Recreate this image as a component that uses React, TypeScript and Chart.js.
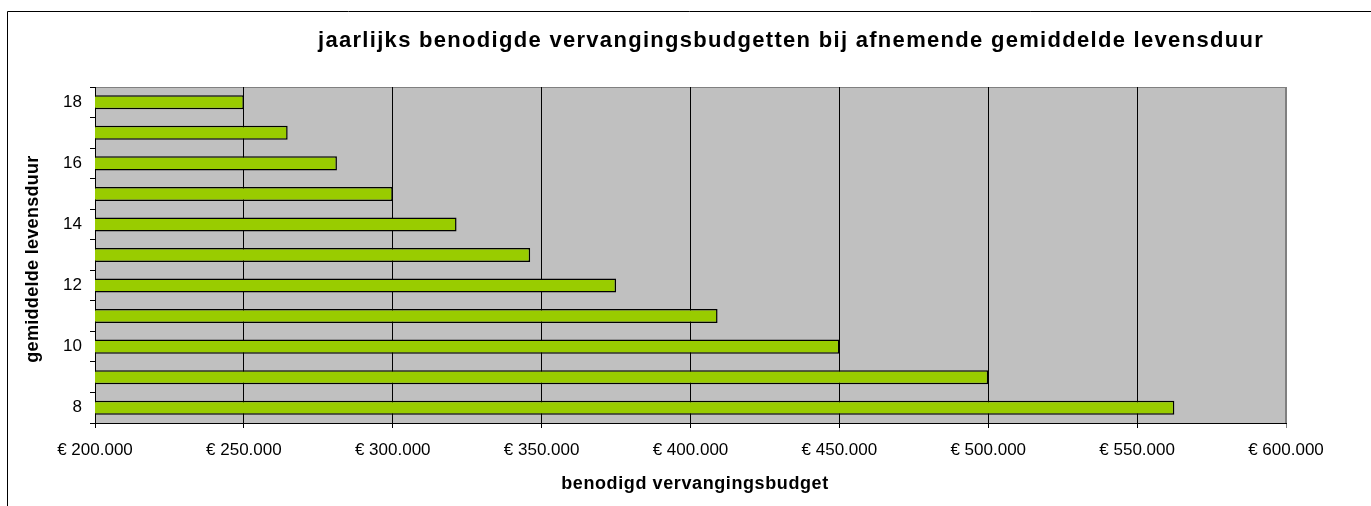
import React, { useEffect, useRef } from "react";
import { Chart, registerables } from "chart.js";

Chart.register(...registerables);

const categories = ["18", "17", "16", "15", "14", "13", "12", "11", "10", "9", "8"];
const budgetValues = [250000, 264706, 281250, 300000, 321429, 346154, 375000, 409091, 450000, 500000, 562500];
const yTickLabels = ["18", "16", "14", "12", "10", "8"];
const xTickLabels = ["€ 200.000", "€ 250.000", "€ 300.000", "€ 350.000", "€ 400.000", "€ 450.000", "€ 500.000", "€ 550.000", "€ 600.000"];
const chartTitle = "jaarlijks benodigde vervangingsbudgetten bij afnemende gemiddelde levensduur";
const xAxisTitle = "benodigd vervangingsbudget";
const yAxisTitle = "gemiddelde levensduur";

const FONT = "'Liberation Sans', Arial, sans-serif";

const decorPlugin = {
  id: "decor",
  beforeDraw(chart: any) {
    const { ctx, chartArea } = chart;
    const { left, top, right, bottom } = chartArea;
    ctx.save();
    ctx.fillStyle = "#ffffff";
    ctx.fillRect(0, 0, chart.width, chart.height);
    ctx.strokeStyle = "#000000";
    ctx.lineWidth = 1;
    ctx.beginPath();
    ctx.moveTo(7.5, chart.height);
    ctx.lineTo(7.5, 11.5);
    ctx.lineTo(chart.width, 11.5);
    ctx.stroke();
    ctx.fillStyle = "#C0C0C0";
    ctx.fillRect(left, top, right - left, bottom - top);
    ctx.strokeStyle = "#808080";
    ctx.strokeRect(left + 0.5, top + 0.5, right - left - 1, bottom - top);
    ctx.restore();
  },
  afterDraw(chart: any) {
    const { ctx } = chart;
    ctx.save();
    ctx.fillStyle = "#000000";
    ctx.textAlign = "center";
    ctx.textBaseline = "alphabetic";
    ctx.font = `bold 22px ${FONT}`;
    (ctx as any).letterSpacing = "1.3px";
    ctx.fillText(chartTitle, 791, 47);
    ctx.font = `bold 18px ${FONT}`;
    (ctx as any).letterSpacing = "0.6px";
    ctx.fillText(xAxisTitle, 695, 489);
    (ctx as any).letterSpacing = "0.3px";
    ctx.translate(38, 259);
    ctx.rotate(-Math.PI / 2);
    ctx.fillText(yAxisTitle, 0, 0);
    ctx.restore();
  },
};

export default function App() {
  const canvasRef = useRef<HTMLCanvasElement | null>(null);

  useEffect(() => {
    if (!canvasRef.current) return;
    const chart = new Chart(canvasRef.current, {
      type: "bar",
      data: {
        labels: categories,
        datasets: [
          {
            data: budgetValues,
            backgroundColor: "#99CC00",
            borderColor: "#000000",
            borderWidth: 1.5,
            borderSkipped: false,
            categoryPercentage: 1,
            barPercentage: 0.46,
          },
        ],
      },
      options: {
        indexAxis: "y",
        animation: false,
        responsive: false,
        maintainAspectRatio: false,
        layout: { padding: { left: 0, top: 87, right: 85, bottom: 0 } },
        plugins: {
          legend: { display: false },
          title: { display: false },
          tooltip: { enabled: false },
        },
        scales: {
          x: {
            type: "linear",
            min: 200000,
            max: 600000,
            afterFit: (s: any) => {
              s.height = 83;
            },
            ticks: {
              stepSize: 50000,
              autoSkip: false,
              maxRotation: 0,
              padding: 12,
              color: "#000000",
              font: { family: FONT, size: 17 },
              callback: (_v: any, i: number) => xTickLabels[i],
            },
            grid: {
              drawOnChartArea: true,
              tickLength: 5,
              color: (c: any) => (c.index === xTickLabels.length - 1 ? "#808080" : "#000000"),
              lineWidth: 1,
            },
            border: { display: true, color: "#000000", width: 1 },
          },
          y: {
            type: "category",
            afterFit: (s: any) => {
              s.width = 95;
            },
            ticks: {
              autoSkip: false,
              padding: 8,
              color: "#000000",
              font: { family: FONT, size: 17 },
              callback: (_v: any, i: number) => (yTickLabels.includes(categories[i]) ? categories[i] : ""),
            },
            grid: {
              offset: true,
              drawOnChartArea: false,
              tickLength: 5,
              color: "#000000",
            },
            border: { display: true, color: "#000000", width: 1 },
          },
        },
      },
      plugins: [decorPlugin],
    });
    return () => chart.destroy();
  }, []);

  return (
    <div style={{ position: "fixed", left: 0, top: 0, width: 1371, height: 506, background: "#fff" }}>
      <canvas ref={canvasRef} width={1371} height={506} style={{ display: "block", width: 1371, height: 506 }} />
    </div>
  );
}
